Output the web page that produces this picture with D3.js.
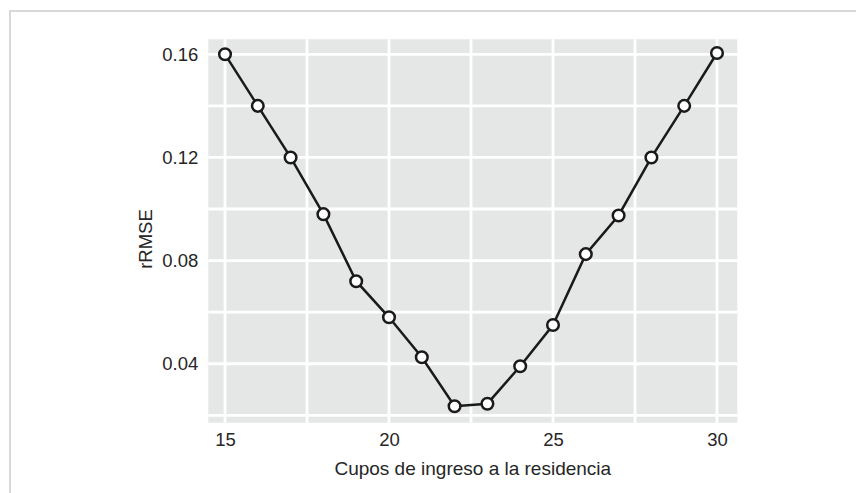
<!DOCTYPE html>
<html><head><meta charset="utf-8">
<script src="https://cdn.jsdelivr.net/npm/d3@7"></script>
<style>body{margin:0;background:#fff}svg{display:block}text{font-family:"Liberation Sans",Arial,sans-serif;fill:#262626}</style>
</head><body>
<svg id="c" width="856" height="493"></svg>
<script>
const cupos = [15,16,17,18,19,20,21,22,23,24,25,26,27,28,29,30];
const rrmse = [0.160,0.140,0.120,0.098,0.072,0.058,0.0425,0.0235,0.0245,0.039,0.055,0.0825,0.0975,0.120,0.140,0.1605];
const xTicks = [15,20,25,30];
const yTicks = [0.04,0.08,0.12,0.16];
const xGrid = [15,17.5,20,22.5,25,27.5,30];
const yGrid = [0.02,0.04,0.06,0.08,0.10,0.12,0.14,0.16];
const xTitle = "Cupos de ingreso a la residencia";
const yTitle = "rRMSE";

const svg = d3.select("#c");
// outer frame
svg.append("rect").attr("x",10).attr("y",11).attr("width",900).attr("height",600)
  .attr("fill","none").attr("stroke","#cdcdcd").attr("stroke-width",1.5);

const P = {l:208.3, r:737.3, t:39.3, b:422.7};
const x = d3.scaleLinear().domain([15,30]).range([225,717]);
const y = d3.scaleLinear().domain([0.02,0.16]).range([415.3,54.3]);

svg.append("rect").attr("x",P.l).attr("y",P.t).attr("width",P.r-P.l).attr("height",P.b-P.t).attr("fill","#e5e6e6");
const g = svg.append("g");
g.selectAll(".vg").data(xGrid).join("line")
  .attr("x1",d=>x(d)).attr("x2",d=>x(d)).attr("y1",P.t).attr("y2",P.b)
  .attr("stroke","#fff").attr("stroke-width",2.8);
g.selectAll(".hg").data(yGrid).join("line")
  .attr("y1",d=>y(d)).attr("y2",d=>y(d)).attr("x1",P.l).attr("x2",P.r)
  .attr("stroke","#fff").attr("stroke-width",2.8);

const xAxis = svg.append("g").attr("transform",`translate(0,${P.b})`)
  .call(d3.axisBottom(x).tickValues(xTicks).tickSize(0).tickPadding(10).tickFormat(d3.format("d")));
xAxis.select(".domain").remove();
xAxis.selectAll("text").attr("font-size",18.5).attr("fill","#262626").attr("font-family","Liberation Sans, Arial, sans-serif");
const yAxis = svg.append("g").attr("transform",`translate(${P.l},0)`)
  .call(d3.axisLeft(y).tickValues(yTicks).tickSize(0).tickPadding(10).tickFormat(d3.format(".2f")));
yAxis.select(".domain").remove();
yAxis.selectAll("text").attr("font-size",18.5).attr("fill","#262626").attr("font-family","Liberation Sans, Arial, sans-serif");

const data = cupos.map((c,i)=>({c, v:rrmse[i]}));
svg.append("path").datum(data)
  .attr("d", d3.line().x(d=>x(d.c)).y(d=>y(d.v)))
  .attr("fill","none").attr("stroke","#1a1a1a").attr("stroke-width",2.5);
svg.selectAll(".pt").data(data).join("circle")
  .attr("cx",d=>x(d.c)).attr("cy",d=>y(d.v)).attr("r",5.8)
  .attr("fill","#fff").attr("stroke","#1a1a1a").attr("stroke-width",2.5);

svg.append("text").attr("x",(P.l+P.r)/2).attr("y",475).attr("text-anchor","middle")
  .attr("font-size",19).text(xTitle);
svg.append("text").attr("transform",`translate(152,${(P.t+P.b)/2+8}) rotate(-90)`)
  .attr("text-anchor","middle").attr("font-size",18.5).text(yTitle);
</script>
</body></html>
